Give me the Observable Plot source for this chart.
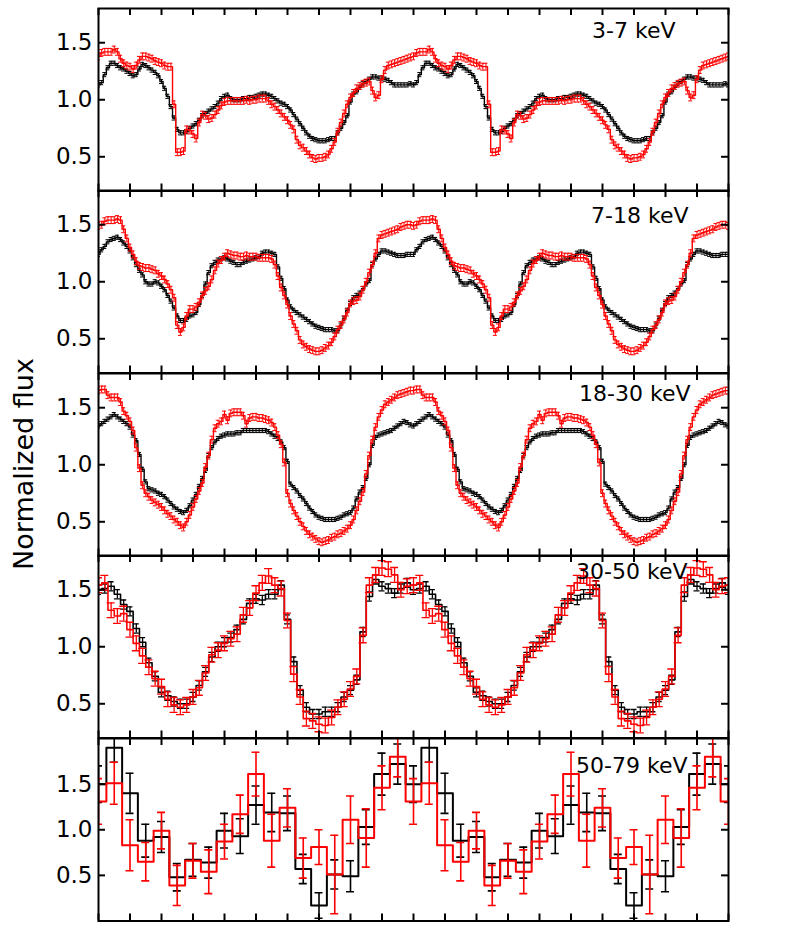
<!DOCTYPE html>
<html>
<head>
<meta charset="utf-8">
<script src="https://cdn.jsdelivr.net/npm/d3@7"></script>
<script src="https://cdn.jsdelivr.net/npm/@observablehq/plot@0.6"></script>
<style>
  html, body { margin: 0; padding: 0; background: white; }
  #root { position: relative; width: 789px; height: 931px; overflow: hidden; font-family: "DejaVu Sans", sans-serif; }
  #root svg.panel { position: absolute; left: 0; }
</style>
</head>
<body>
<div id="root"></div>
<script>
// ---------------- DATA (one pulse cycle each; the profile is shown twice) ----------------
const bandLabels = ["3-7 keV", "7-18 keV", "18-30 keV", "30-50 keV", "50-79 keV"];
const yTickValues = [0.5, 1.0, 1.5];
const xTickValues = [0, 0.1, 0.2, 0.3, 0.4, 0.5, 0.6, 0.7, 0.8, 0.9, 1.0, 1.1, 1.2, 1.3, 1.4, 1.5, 1.6, 1.7, 1.8, 1.9, 2.0];
const binsPerCycle = [100, 100, 100, 50, 20];
const yDomains = [[0.2, 1.8], [0.2, 1.8], [0.2, 1.8], [0.2, 1.8], [0, 2]];

// 3-7 keV
const black37 = [1.13,1.15,1.22,1.28,1.32,1.32,1.30,1.28,1.27,1.25, 1.23,1.21,1.22,1.27,1.31,1.30,1.28,1.26,1.24,1.21,
  1.16,1.10,1.03,0.94,0.84,0.74,0.71,0.71,0.72,0.75, 0.77,0.79,0.82,0.86,0.88,0.90,0.92,0.94,0.97,1.01,
  1.03,1.04,1.01,1.00,1.00,1.00,1.01,1.01,1.02,1.02, 1.03,1.04,1.05,1.05,1.04,1.03,1.01,0.99,0.97,0.96,
  0.94,0.91,0.87,0.83,0.79,0.75,0.71,0.68,0.66,0.65, 0.64,0.64,0.64,0.65,0.66,0.66,0.71,0.75,0.80,0.86,
  0.98,1.05,1.07,1.11,1.14,1.16,1.18,1.20,1.20,1.19, 1.19,1.18,1.17,1.15,1.13,1.13,1.13,1.13,1.13,1.14];
const red37 = [1.38,1.41,1.42,1.42,1.42,1.44,1.42,1.36,1.32,1.30, 1.29,1.27,1.30,1.35,1.38,1.38,1.37,1.36,1.34,1.33,
  1.32,1.30,1.29,1.29,0.96,0.54,0.54,0.55,0.74,0.73, 0.70,0.66,0.80,0.87,0.86,0.83,0.84,0.87,0.91,0.95,
  0.98,0.99,0.99,0.99,0.99,0.99,0.99,1.00,0.99,1.00, 1.00,1.01,1.01,1.01,0.99,0.96,0.94,0.91,0.88,0.85,
  0.82,0.78,0.74,0.65,0.60,0.58,0.55,0.52,0.49,0.48, 0.49,0.49,0.50,0.52,0.57,0.63,0.72,0.80,0.88,0.96,
  1.02,1.06,1.10,1.12,1.14,1.15,1.16,1.08,1.02,1.04, 1.18,1.26,1.30,1.31,1.32,1.33,1.34,1.35,1.36,1.37];

// 7-18 keV
const black718 = [1.24,1.28,1.31,1.35,1.37,1.38,1.39,1.37,1.34,1.31, 1.27,1.21,1.15,1.10,1.06,1.00,0.98,0.98,1.00,0.99,
  0.96,0.93,0.88,0.83,0.77,0.70,0.66,0.66,0.67,0.70, 0.71,0.73,0.80,0.88,0.98,1.08,1.14,1.17,1.19,1.20,
  1.21,1.20,1.18,1.17,1.15,1.15,1.17,1.18,1.19,1.20, 1.21,1.22,1.25,1.26,1.26,1.25,1.24,1.13,1.03,0.94,
  0.84,0.78,0.75,0.73,0.71,0.69,0.67,0.65,0.63,0.61, 0.60,0.59,0.58,0.58,0.58,0.57,0.57,0.62,0.68,0.75,
  0.81,0.86,0.88,0.90,0.94,0.98,1.01,1.15,1.20,1.24, 1.27,1.27,1.26,1.25,1.24,1.23,1.23,1.23,1.24,1.24];
const red718 = [1.49,1.50,1.53,1.54,1.54,1.54,1.55,1.54,1.46,1.38, 1.30,1.24,1.18,1.14,1.13,1.12,1.12,1.11,1.10,1.07,
  1.05,1.02,0.98,0.93,0.86,0.62,0.56,0.60,0.70,0.76, 0.76,0.78,0.82,0.88,0.92,0.96,1.02,1.10,1.16,1.19,
  1.22,1.25,1.24,1.23,1.23,1.22,1.22,1.23,1.22,1.22, 1.22,1.21,1.21,1.21,1.21,1.20,1.15,1.05,0.95,0.88,
  0.80,0.70,0.63,0.57,0.49,0.45,0.43,0.41,0.40,0.39, 0.39,0.40,0.42,0.44,0.47,0.52,0.58,0.62,0.67,0.73,
  0.81,0.83,0.84,0.87,0.93,1.00,1.08,1.15,1.25,1.38, 1.41,1.42,1.43,1.44,1.45,1.46,1.48,1.49,1.50,1.50];

// 18-30 keV
const black1830 = [1.34,1.36,1.38,1.40,1.42,1.44,1.42,1.40,1.38,1.36, 1.33,1.26,1.21,1.09,0.96,0.85,0.79,0.78,0.77,0.75,
  0.74,0.72,0.69,0.66,0.63,0.61,0.59,0.58,0.60,0.64, 0.69,0.74,0.81,0.88,0.95,1.08,1.15,1.20,1.23,1.25,
  1.26,1.27,1.27,1.27,1.28,1.28,1.30,1.30,1.30,1.30, 1.30,1.30,1.30,1.30,1.29,1.27,1.25,1.23,1.20,1.15,
  1.03,0.83,0.80,0.77,0.73,0.70,0.66,0.62,0.59,0.56, 0.54,0.53,0.52,0.52,0.52,0.52,0.53,0.54,0.56,0.57,
  0.58,0.62,0.70,0.76,0.80,0.88,1.00,1.17,1.24,1.26, 1.27,1.28,1.29,1.30,1.32,1.34,1.36,1.38,1.37,1.35];
const red1830 = [1.65,1.66,1.66,1.61,1.59,1.59,1.59,1.55,1.47,1.43, 1.38,1.30,1.15,0.97,0.82,0.75,0.72,0.69,0.67,0.65,
  0.63,0.60,0.57,0.55,0.52,0.50,0.47,0.45,0.50,0.56, 0.63,0.70,0.77,0.84,0.98,1.08,1.22,1.32,1.36,1.38,
  1.44,1.39,1.45,1.46,1.46,1.46,1.43,1.36,1.41,1.42, 1.42,1.41,1.41,1.40,1.39,1.37,1.33,1.26,1.18,1.02,
  0.75,0.66,0.60,0.55,0.50,0.46,0.42,0.39,0.37,0.35, 0.33,0.32,0.33,0.34,0.36,0.37,0.39,0.40,0.42,0.44,
  0.47,0.52,0.60,0.68,0.76,0.92,1.08,1.22,1.33,1.42, 1.48,1.53,1.55,1.57,1.59,1.61,1.62,1.63,1.64,1.65];

// 30-50 keV
const black3050 = [1.50,1.51,1.53,1.46,1.37,1.31,1.16,1.04,0.86,0.74, 0.60,0.57,0.52,0.50,0.50,0.56,0.66,0.78,0.91,1.00,
  1.04,1.08,1.15,1.24,1.38,1.42,1.41,1.46,1.46,1.54, 1.24,0.87,0.62,0.47,0.41,0.41,0.43,0.43,0.47,0.56,
  0.62,0.71,1.13,1.44,1.59,1.53,1.51,1.47,1.51,1.56];
const red3050 = [1.54,1.56,1.32,1.27,1.29,1.15,1.03,0.92,0.82,0.72, 0.65,0.54,0.49,0.47,0.49,0.56,0.64,0.77,0.93,0.97,
  1.03,1.07,1.11,1.28,1.34,1.47,1.56,1.62,1.54,1.51, 1.23,0.76,0.56,0.37,0.35,0.32,0.31,0.38,0.47,0.54,
  0.63,0.74,1.10,1.54,1.63,1.69,1.68,1.63,1.50,1.53];

// 50-79 keV
const black5079 = [1.50,1.90,1.40,0.88,0.92,0.48,0.67,0.64,0.99,0.93, 1.27,1.19,1.18,0.57,0.17,0.51,0.49,1.03,1.61,1.72];
const red5079 = [1.31,1.51,0.83,0.65,0.99,0.39,0.66,0.54,0.87,1.17, 1.61,0.88,1.24,0.69,0.81,0.51,1.11,0.91,1.46,1.80];
const black5079Err = [0.20,0.16,0.22,0.18,0.17,0.15,0.18,0.17,0.19,0.19, 0.21,0.21,0.19,0.16,0.14,0.16,0.17,0.19,0.23,0.22];
const red5079Err = [0.25,0.23,0.28,0.21,0.20,0.22,0.19,0.24,0.19,0.21, 0.24,0.29,0.21,0.22,0.19,0.43,0.26,0.32,0.24,0.22];

// typical error-bar half heights for the dense panels
const blackErr = [0.018, 0.018, 0.018, 0.04];
const redErr = [0.03, 0.03, 0.03, 0.065];

// ---------------- BUILD ----------------
const panels = [
  {black: black37, red: red37},
  {black: black718, red: red718},
  {black: black1830, red: red1830},
  {black: black3050, red: red3050},
  {black: black5079, red: red5079, blackE: black5079Err, redE: red5079Err}
];

function profile(values, N, err) {
  // the single cycle is plotted twice: phase 0 .. 2
  return d3.range(0, 2 * N + 1).map(k => {
    const v = values[k % N];
    const e = Array.isArray(err) ? err[k % N] : err;
    return {phase: k / N, v, lo: v - e, hi: v + e};
  });
}

const frameTop = 7.5, panelH = 182.5, mT = 10, mB = 10;
const mLeft = 98, mRight = 61, W = 789;
const phasePx = (W - mLeft - mRight) / 2;
const tickLen = 7;
const labelOffsets = [[-53, 29], [-40, 32], [-38, 27], [-41, 23], [-41, 34]];
const capPxBlack = [4, 4, 4, 6, 8];
const capPxRed = [4, 4, 4, 8, 8];
const lineW = [1.4, 1.4, 1.4, 1.6, 2];
const barW = [1, 1, 1, 1.3, 1.6];

const root = document.getElementById("root");

panels.forEach((p, i) => {
  const N = binsPerCycle[i];
  const [y0, y1] = yDomains[i];
  const yPerPx = (y1 - y0) / panelH;
  const bData = profile(p.black, N, p.blackE || blackErr[i]);
  const rData = profile(p.red, N, p.redE || redErr[i]);

  const seriesMarks = (data, color, capPx) => {
    const cap = capPx / 2 / phasePx;
    return [
      Plot.ruleX(data, {x: "phase", y1: "lo", y2: "hi", stroke: color, strokeWidth: barW[i], clip: true}),
      Plot.ruleY(data, {y: "lo", x1: d => d.phase - cap, x2: d => d.phase + cap, stroke: color, strokeWidth: barW[i], clip: true}),
      Plot.ruleY(data, {y: "hi", x1: d => d.phase - cap, x2: d => d.phase + cap, stroke: color, strokeWidth: barW[i], clip: true}),
      Plot.line(data, {x: "phase", y: "v", curve: "step", stroke: color, strokeWidth: lineW[i], clip: true})
    ];
  };

  const chart = Plot.plot({
    width: W,
    height: panelH + mT + mB,
    marginLeft: mLeft, marginRight: mRight, marginTop: mT, marginBottom: mB,
    x: {domain: [0, 2]},
    y: {domain: yDomains[i]},
    style: {background: "transparent", overflow: "visible", fontFamily: "DejaVu Sans", fontSize: "23px", color: "black"},
    marks: [
      ...seriesMarks(bData, "#000000", capPxBlack[i]),
      ...seriesMarks(rData, "#ff0000", capPxRed[i]),
      Plot.frame({stroke: "black", strokeWidth: 2}),
      // inward ticks on all four sides
      Plot.ruleX(xTickValues, {x: d => d, y1: y0, y2: y0 + tickLen * yPerPx, stroke: "black", strokeWidth: 2}),
      Plot.ruleX(xTickValues, {x: d => d, y1: y1 - tickLen * yPerPx, y2: y1, stroke: "black", strokeWidth: 2}),
      Plot.ruleY(yTickValues, {y: d => d, x1: 0, x2: tickLen / phasePx, stroke: "black", strokeWidth: 2}),
      Plot.ruleY(yTickValues, {y: d => d, x1: 2 - tickLen / phasePx, x2: 2, stroke: "black", strokeWidth: 2}),
      Plot.axisY({anchor: "left", ticks: yTickValues, tickSize: 0, tickPadding: 6, tickFormat: d3.format(".1f"), fontSize: 23, label: null}),
      Plot.axisX({anchor: "bottom", ticks: [], tickSize: 0, label: null}),
      Plot.text([bandLabels[i]], {frameAnchor: "top-right", text: d => d, textAnchor: "end", lineAnchor: "bottom",
        dx: labelOffsets[i][0], dy: labelOffsets[i][1], fontSize: 22, fill: "black"})
    ]
  });
  chart.classList.add("panel");
  chart.style.top = (frameTop + panelH * i - mT) + "px";
  root.appendChild(chart);
});

// shared y-axis title
const ylab = d3.select(root).append("svg")
  .attr("width", 60).attr("height", 931)
  .style("position", "absolute").style("left", "0px").style("top", "0px");
ylab.append("text")
  .attr("transform", "translate(33,464) rotate(-90)")
  .attr("text-anchor", "middle")
  .attr("font-family", "DejaVu Sans")
  .attr("font-size", 27)
  .attr("fill", "black")
  .text("Normalized flux");
</script>
</body>
</html>
